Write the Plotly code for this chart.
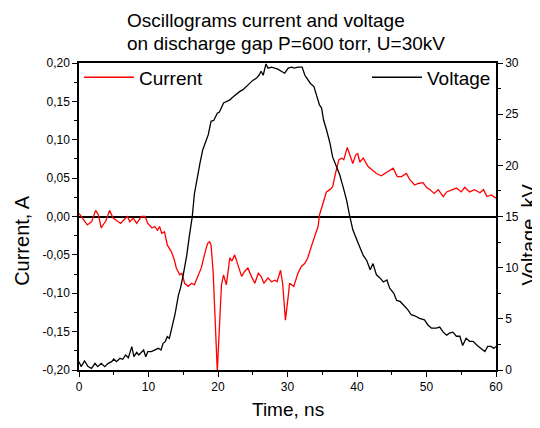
import plotly.graph_objects as go

# current oscillogram (ns, A)
current_t = [
    0.0, 0.3, 1.2, 1.8, 2.4, 2.8, 3.2, 3.9, 4.4, 4.9, 5.5, 6.0, 6.6, 7.0, 7.3, 7.8,
    8.3, 9.0, 9.5, 9.9, 10.5, 10.9, 11.3, 11.6, 11.9, 12.3, 12.7, 13.3, 13.7, 14.0,
    14.5, 14.8, 15.2, 15.7, 16.2, 16.6, 17.1, 17.6, 18.1, 18.5, 18.8, 19.0, 19.3,
    19.6, 19.9, 20.2, 20.5, 20.8, 21.2, 21.7, 22.0, 22.4, 22.9, 23.4, 23.8, 24.3,
    24.8, 25.3, 25.8, 26.2, 26.6, 27.2, 27.7, 28.2, 28.5, 29.0, 29.3, 29.7, 30.1,
    30.3, 30.9, 31.5, 32.0, 32.5, 32.9, 33.4, 33.9, 34.4, 34.6, 35.1, 35.6, 36.1,
    36.5, 36.9, 37.4, 37.8, 38.1, 38.6, 39.0, 39.4, 39.8, 40.1, 40.4, 40.9, 41.6,
    42.1, 42.8, 43.5, 44.0, 44.7, 45.2, 45.8, 46.4, 47.1, 47.6, 48.3, 48.8, 49.5,
    50.0, 50.5, 51.1, 51.7, 52.4, 52.9, 53.6, 54.3, 55.0, 55.5, 56.2, 56.9, 57.7,
    58.2, 58.7, 59.3, 60.0,
]
current_a = [
    0.004, 0.000, -0.011, -0.007, 0.008, 0.002, -0.015, -0.005, 0.008, -0.002,
    -0.006, -0.009, -0.003, 0.000, -0.007, -0.002, -0.009, 0.000, 0.000, -0.009,
    -0.015, -0.013, -0.018, -0.013, -0.022, -0.020, -0.037, -0.046, -0.056, -0.067,
    -0.076, -0.074, -0.087, -0.091, -0.087, -0.089, -0.078, -0.067, -0.048, -0.035,
    -0.033, -0.037, -0.072, -0.145, -0.202, -0.145, -0.089, -0.076, -0.089, -0.054,
    -0.058, -0.050, -0.063, -0.078, -0.072, -0.067, -0.078, -0.087, -0.074, -0.078,
    -0.087, -0.080, -0.085, -0.083, -0.085, -0.070, -0.087, -0.135, -0.104, -0.087,
    -0.091, -0.074, -0.065, -0.061, -0.054, -0.039, -0.026, -0.013, 0.002, 0.017,
    0.032, 0.035, 0.039, 0.056, 0.074, 0.076, 0.074, 0.090, 0.078, 0.069, 0.080,
    0.082, 0.071, 0.076, 0.065, 0.061, 0.056, 0.053, 0.056, 0.061, 0.063, 0.052,
    0.052, 0.056, 0.048, 0.041, 0.043, 0.044, 0.038, 0.035, 0.030, 0.035, 0.026,
    0.032, 0.035, 0.037, 0.032, 0.038, 0.032, 0.035, 0.031, 0.035, 0.026, 0.028,
    0.024,
]

# voltage oscillogram (ns, kV)
voltage_t = [
    0.0, 0.3, 0.8, 1.3, 1.8, 2.3, 2.7, 3.2, 3.7, 4.2, 4.7, 5.0, 5.4, 5.9, 6.3, 6.7,
    7.1, 7.3, 7.6, 7.9, 8.3, 8.6, 9.0, 9.3, 9.6, 9.9, 10.4, 10.9, 11.4, 11.8, 12.1,
    12.4, 12.7, 13.0, 13.3, 13.5, 13.8, 14.3, 14.6, 15.0, 15.5, 15.9, 16.3, 16.6,
    17.0, 17.4, 17.8, 18.1, 18.6, 19.0, 19.4, 19.9, 20.2, 20.8, 21.2, 21.7, 22.2,
    22.7, 23.1, 23.6, 24.1, 24.6, 25.0, 25.5, 25.9, 26.2, 26.5, 26.9, 27.2, 27.7,
    28.2, 28.6, 29.1, 29.6, 30.1, 30.6, 31.0, 31.5, 32.1, 32.5, 32.8, 33.3, 33.8,
    34.2, 34.6, 34.9, 35.2, 35.6, 36.1, 36.5, 37.0, 37.5, 38.0, 38.5, 38.9, 39.4,
    40.1, 40.6, 40.9, 41.4, 41.9, 42.3, 42.8, 43.3, 43.8, 44.3, 44.7, 45.3, 45.7,
    46.2, 46.9, 47.3, 47.8, 48.3, 49.0, 49.7, 50.2, 50.7, 51.4, 51.9, 52.4, 52.9,
    53.3, 53.8, 54.3, 54.8, 55.2, 55.7, 56.2, 56.7, 57.3, 57.9, 58.4, 58.8, 59.3,
    59.7, 60.0,
]
voltage_kv = [
    0.81, 0.33, 0.88, 0.33, 0.16, 0.65, 0.33, 0.65, 0.33, 0.65, 0.81, 1.07, 0.81,
    1.14, 1.05, 1.47, 1.20, 1.63, 2.28, 1.30, 1.73, 1.47, 1.79, 1.95, 1.30, 1.79,
    1.79, 1.95, 2.12, 1.95, 2.61, 2.77, 3.26, 3.10, 3.90, 4.70, 5.40, 7.30, 8.00,
    9.30, 11.2, 13.2, 15.0, 17.2, 18.9, 20.2, 21.5, 22.0, 23.0, 24.3, 24.4, 25.1,
    25.2, 26.1, 26.2, 26.4, 26.7, 27.0, 27.2, 27.4, 27.7, 28.0, 28.3, 28.5, 28.8,
    29.2, 28.8, 29.9, 29.5, 29.6, 29.5, 29.4, 29.2, 29.0, 29.5, 29.6, 29.5, 29.6,
    29.6, 28.8, 28.5, 28.0, 27.7, 26.7, 25.9, 25.6, 24.4, 23.5, 22.2, 20.8, 19.9,
    19.1, 17.9, 16.6, 15.2, 13.7, 12.5, 11.7, 11.2, 10.7, 9.8, 10.4, 9.3, 9.0, 8.6,
    8.8, 8.0, 7.5, 6.8, 6.7, 6.2, 5.9, 5.4, 5.3, 5.05, 4.9, 4.4, 4.1, 4.1, 4.2, 3.7,
    3.4, 3.6, 3.7, 3.3, 3.3, 2.4, 3.1, 2.8, 2.8, 2.4, 2.1, 1.8, 2.3, 2.3, 2.1, 2.3,
]

current_ticks = [0.20, 0.15, 0.10, 0.05, 0.0, -0.05, -0.10, -0.15, -0.20]
current_tick_text = ["0,20", "0,15", "0,10", "0,05", "0,00",
                     "-0,05", "-0,10", "-0,15", "-0,20"]

FONT = "Arial, Liberation Sans, sans-serif"

fig = go.Figure()

fig.add_trace(
    go.Scatter(
        x=current_t, y=current_a, mode="lines", name="Current",
        line=dict(color="#ff0000", width=1.3), legend="legend",
    )
)
fig.add_trace(
    go.Scatter(
        x=voltage_t, y=voltage_kv, mode="lines", name="Voltage", yaxis="y2",
        line=dict(color="#000000", width=1.3), legend="legend2",
    )
)

axis_common = dict(
    showgrid=False, showline=True, linecolor="black", linewidth=1.5,
    ticks="outside", ticklen=5, tickwidth=1.2, tickcolor="black",
    tickfont=dict(size=12, color="black"),
)

# page body adds an 8px margin, so the figure is 8px smaller than the window
fig.update_layout(
    width=532, height=420,
    margin=dict(l=71, r=44, t=55, b=58),
    paper_bgcolor="white", plot_bgcolor="white",
    font=dict(family=FONT, color="black"),
    xaxis=dict(
        range=[0, 60], dtick=10, mirror=True, zeroline=False,
        minor=dict(dtick=5, ticks="outside", ticklen=3, tickcolor="black"),
        **axis_common,
    ),
    yaxis=dict(
        range=[-0.2, 0.2], tickvals=current_ticks, ticktext=current_tick_text,
        zeroline=True, zerolinecolor="black", zerolinewidth=1.5,
        minor=dict(dtick=0.025, ticks="outside", ticklen=3, tickcolor="black"),
        **axis_common,
    ),
    yaxis2=dict(
        range=[0, 30], dtick=5, overlaying="y", side="right", zeroline=False,
        minor=dict(dtick=2.5, ticks="outside", ticklen=3, tickcolor="black"),
        **axis_common,
    ),
    legend=dict(
        x=0.0, y=1.015, xanchor="left", yanchor="top", bgcolor="rgba(0,0,0,0)",
        font=dict(size=19), itemwidth=50,
    ),
    legend2=dict(
        x=1.0, y=1.015, xanchor="right", yanchor="top", bgcolor="rgba(0,0,0,0)",
        font=dict(size=19), itemwidth=50,
    ),
    showlegend=True,
)

# titles placed as paper annotations
title_lines = ["Oscillograms current and voltage", "on discharge gap P=600 torr, U=30kV"]
for text, ypos in zip(title_lines, [1.140, 1.065]):
    fig.add_annotation(text=text, x=0.110, y=ypos, xref="paper", yref="paper",
                       xanchor="left", yanchor="middle", showarrow=False,
                       font=dict(size=19))
fig.add_annotation(text="Current, A", x=-0.137, y=0.4235, xref="paper", yref="paper",
                   xanchor="center", yanchor="middle", textangle=-90,
                   showarrow=False, font=dict(size=20))
fig.add_annotation(text="Voltage, kV", x=1.078, y=0.44, xref="paper", yref="paper",
                   xanchor="center", yanchor="middle", textangle=-90,
                   showarrow=False, font=dict(size=20))
fig.add_annotation(text="Time, ns", x=0.501, y=-0.130, xref="paper", yref="paper",
                   xanchor="center", yanchor="middle", showarrow=False,
                   font=dict(size=19))

fig.write_html("out.html")
